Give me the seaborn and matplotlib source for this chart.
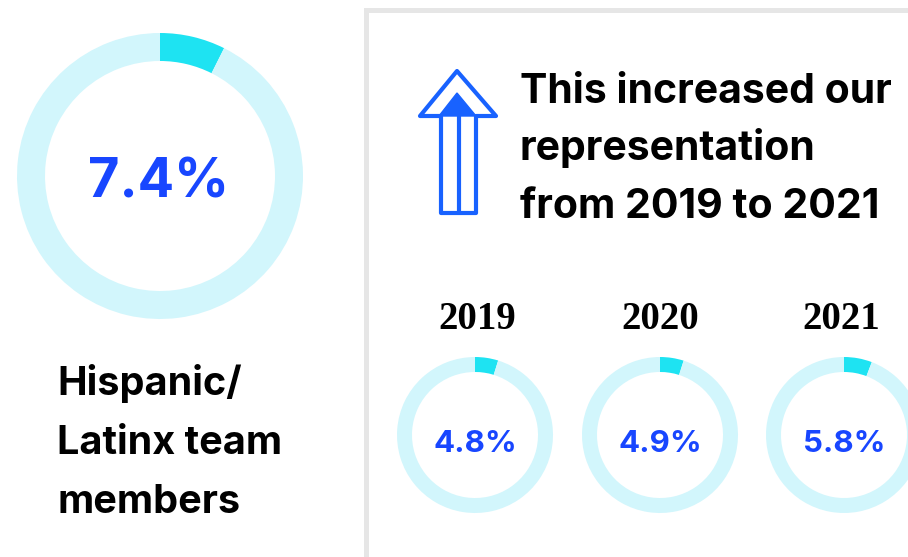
import matplotlib
matplotlib.use("Agg")
import matplotlib.pyplot as plt
import seaborn as sns
from matplotlib.patches import Polygon, Rectangle
from matplotlib.lines import Line2D

# ---- data ----
overall_share = 7.4
overall_label = "Hispanic/\nLatinx team\nmembers"
years = ["2019", "2020", "2021"]
year_shares = [4.8, 4.9, 5.8]
headline = ["This increased our", "representation", "from 2019 to 2021"]

sns.set_theme(style="white")
plt.rcParams["font.family"] = ["Inter", "DejaVu Sans"]

SEG = "#1ee3f2"
RING = "#d2f6fc"
BLUE = "#1846ff"
ARROW = "#1862ff"

W, H = 908, 557
fig = plt.figure(figsize=(W / 100, H / 100), dpi=100)
fig.patch.set_facecolor("white")

# overlay in pixel coordinates
ov = fig.add_axes([0, 0, 1, 1])
ov.set_xlim(0, W)
ov.set_ylim(H, 0)
ov.axis("off")


def donut(cx, cy, r_out, r_in, value):
    ax = fig.add_axes([(cx - r_out) / W, 1 - (cy + r_out) / H, 2 * r_out / W, 2 * r_out / H])
    ax.pie([value, 100 - value], colors=[SEG, RING], startangle=90,
           counterclock=False, radius=1,
           wedgeprops=dict(width=(r_out - r_in) / r_out, linewidth=0))
    ax.set_xlim(-1, 1)
    ax.set_ylim(-1, 1)
    ax.set_aspect("auto")
    ax.axis("off")
    return ax


# big donut
donut(160, 176, 143, 115, overall_share)
ov.text(158, 198, f"{overall_share}%", color=BLUE, fontsize=39, fontweight="bold",
        ha="center", va="baseline", zorder=5)

# left label
for i, line in enumerate(overall_label.split("\n")):
    ov.text(57, 395 + i * 59, line, fontsize=28.5, fontweight="bold", color="black",
            ha="left", va="baseline")

# panel border
ov.add_patch(Rectangle((364, 8), 5, H, color="#e6e6e6", lw=0))
ov.add_patch(Rectangle((364, 8), W, 5, color="#e6e6e6", lw=0))

# arrow
lw = 3
ov.add_patch(Polygon([(441, 213), (441, 116), (420, 116), (457, 71), (496, 116),
                      (476, 116), (476, 213)], closed=True, fill=False,
                     edgecolor=ARROW, lw=lw, joinstyle="round"))
ov.add_patch(Polygon([(439, 116), (457, 93), (476, 116)], closed=True,
                     facecolor=ARROW, edgecolor=ARROW, lw=1))
ov.add_line(Line2D([458.5, 458.5], [116, 213], color=ARROW, lw=lw))

# headline
for i, line in enumerate(headline):
    ov.text(520, 103 + i * 57.5, line, fontsize=29.5, fontweight="bold", color="black",
            ha="left", va="baseline")

# yearly donuts
centers = [475, 660, 844]
year_x = [477, 660, 841]
for cx, yx, yr, v in zip(centers, year_x, years, year_shares):
    ov.text(yx, 329, yr, fontsize=28, fontweight="bold", color="black",
            family=["Liberation Serif", "DejaVu Serif"], ha="center", va="baseline")
    donut(cx, 435, 78, 63, v)
    ov.text(cx, 452, f"{v}%", color=BLUE, fontsize=22.5, fontweight="bold",
            ha="center", va="baseline", zorder=5)

fig.savefig("out.png", dpi=100, facecolor="white")
